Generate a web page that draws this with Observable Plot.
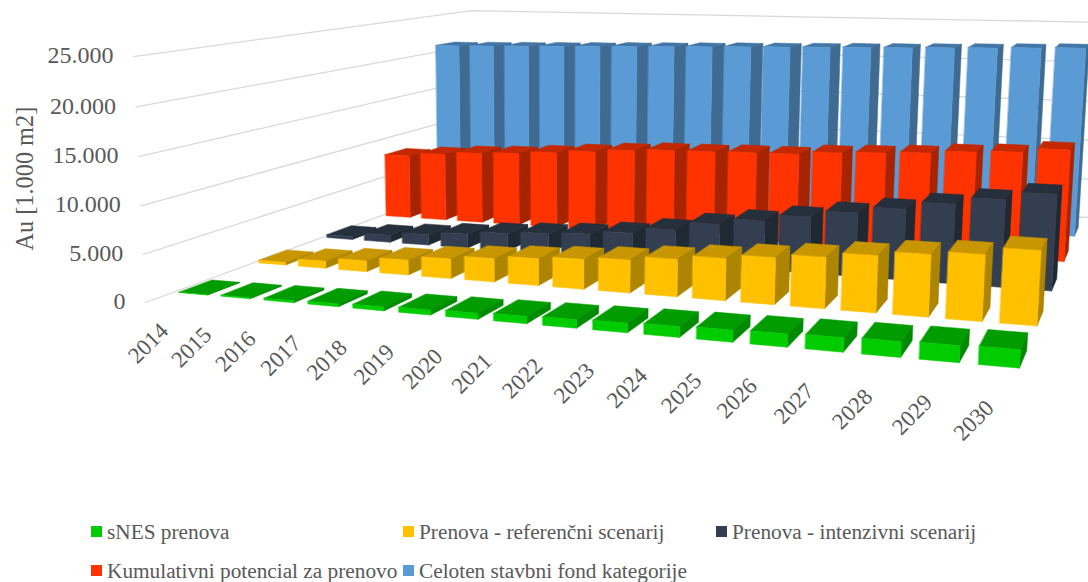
<!DOCTYPE html>
<html>
<head>
<meta charset="utf-8">
<style>
  html, body { margin: 0; padding: 0; background: #fff; }
  #chart { width: 1088px; height: 582px; position: relative; overflow: hidden; font-family: "Liberation Serif", serif; color: #595959; }
  #legend { position: absolute; left: 0; top: 510px; width: 1088px; height: 72px; font-size: 21.3px; }
  .key { position: absolute; white-space: nowrap; line-height: 24px; }
  .key i { display: inline-block; width: 11px; height: 11px; margin-right: 5px; vertical-align: 2.5px; }
</style>
<script src="https://cdn.jsdelivr.net/npm/d3@7"></script>
<script src="https://cdn.jsdelivr.net/npm/@observablehq/plot@0.6"></script>
</head>
<body>
<div id="chart"><div id="plot"></div><div id="legend"></div></div>
<script>
// Areas in thousands of square metres, one list per scenario row.
const years = [2014,2015,2016,2017,2018,2019,2020,2021,2022,2023,2024,2025,2026,2027,2028,2029,2030];
const snes      = [30,110,200,300,400,500,610,720,830,930,1040,1140,1240,1340,1440,1540,1650];
const referencni = [300,800,1200,1650,2150,2550,2900,3200,3500,3950,4400,4850,5250,5770,6250,6600,7350];
const intenzivni = [370,850,1250,1650,2050,2350,2650,3100,3830,4780,5500,6240,7000,7720,8570,9350,10200];
const potencial = [8050,8480,8860,9080,9420,9800,10170,10430,10500,10640,10700,11100,11330,11570,11930,12160,12680];
const fond      = [21030,21130,21240,21340,21450,21560,21670,21780,21900,21990,22090,22190,22280,22400,22520,22640,22760];
const axisTicks = [0,5000,10000,15000,20000,25000];
const axisLabels = ["0","5.000","10.000","15.000","20.000","25.000"];

const rows = [
  {name: "sNES prenova", values: snes, front: "#00cc00", top: "#009c00", side: "#008a00"},
  {name: "Prenova - referenčni scenarij", values: referencni, front: "#ffc000", top: "#c79600", side: "#ad8500"},
  {name: "Prenova - intenzivni scenarij", values: intenzivni, front: "#333f50", top: "#262f3c", side: "#1f2934"},
  {name: "Kumulativni potencial za prenovo", values: potencial, front: "#ff3300", top: "#c42800", side: "#a82300"},
  {name: "Celoten stavbni fond kategorije", values: fond, front: "#5b9bd5", top: "#4176a6", side: "#3f6b93"}
];

// Perspective of the 3D box: three vanishing points and their weights.
const O = [145, 302], VX = [-3836, -70], VY = [1210, -90], VZ = [559, 8800];
const wx = -0.01065, wy = 0.0891, wz = -0.02813 / 25000;
function project(X, Y, Z) {
  const a = X * wx, b = Y * wy, c = Z * wz, d = 1 + a + b + c;
  return [
    (O[0] + a * VX[0] + b * VY[0] + c * VZ[0]) / d,
    (O[1] + a * VX[1] + b * VY[1] + c * VZ[1]) / d
  ];
}

const barStart = 0.12, barWidth = 0.68, rowStart = 0.31, rowPitch = 0.965, rowDepth = 0.38;
const faces = [];
function addFace(id, fill, corners) {
  for (const [X, Y, Z] of corners) {
    const [x, y] = project(X, Y, Z);
    faces.push({id, fill, x, y});
  }
}
// Painter's order: back rows first, then left to right inside a row.
for (let r = rows.length - 1; r >= 0; r--) {
  const row = rows[r];
  row.values.forEach((v, n) => {
    const x0 = n + barStart, x1 = x0 + barWidth, y0 = r * rowPitch + rowStart, y1 = y0 + rowDepth;
    addFace(`${r}-${n}-t`, row.top, [[x0,y0,v],[x1,y0,v],[x1,y1,v],[x0,y1,v]]);
    addFace(`${r}-${n}-s`, row.side, [[x1,y0,0],[x1,y1,0],[x1,y1,v],[x1,y0,v]]);
    addFace(`${r}-${n}-f`, row.front, [[x0,y0,0],[x1,y0,0],[x1,y0,v],[x0,y0,v]]);
  });
}

// Gridlines run along the left wall and then along the back wall.
const grid = axisTicks.flatMap(v =>
  [[0,0],[0,rows.length],[years.length,rows.length]].map(([X,Y]) => {
    const [x, y] = project(X, Y, v);
    return {v, x, y};
  })
);
const yTicks = axisTicks.map((v, i) => {
  const [x, y] = project(0, 0, v);
  return {x, y, label: axisLabels[i]};
});
const xTicks = years.map((yr, n) => {
  const [x, y] = project(n + 0.4, 0, 0);
  return {x, y, label: String(yr)};
});

const W = 1088, H = 510, ink = "#595959", font = "Liberation Serif";
const chart = Plot.plot({
  width: W, height: H,
  marginTop: 0, marginRight: 0, marginBottom: 0, marginLeft: 0,
  style: {background: "transparent", fontFamily: font},
  x: {domain: [0, W], range: [0, W], axis: null},
  y: {domain: [0, H], range: [0, H], axis: null},
  color: {type: "identity"},
  marks: [
    Plot.line(grid, {x: "x", y: "y", z: "v", stroke: "#d9d9d9", strokeWidth: 1.3}),
    Plot.line(faces, {x: "x", y: "y", z: "id", fill: "fill", stroke: "fill", strokeWidth: 0.5, curve: "linear-closed"}),
    Plot.text(yTicks, {x: "x", y: "y", text: "label", textAnchor: "end", dx: -20, dy: -1, fontSize: 24, fill: ink, fontFamily: font}),
    Plot.text(xTicks, {x: "x", y: "y", text: "label", textAnchor: "end", rotate: -45, dx: 2, dy: 23, fontSize: 23, fill: ink, fontFamily: font}),
    Plot.text(["Au [1.000 m2]"], {frameAnchor: "top-left", dx: 15, dy: 250, rotate: -90, fontSize: 24.3, fill: ink, fontFamily: font})
  ]
});
document.getElementById("plot").appendChild(chart);

// Legend below the drawing, in the order of the rows.
const slots = [[91, 10], [403, 10], [716, 10], [91, 49], [403, 49]];
const legend = document.getElementById("legend");
rows.forEach((row, i) => {
  const key = document.createElement("div");
  key.className = "key";
  key.style.left = slots[i][0] + "px";
  key.style.top = slots[i][1] + "px";
  const swatch = document.createElement("i");
  swatch.style.background = row.front;
  key.append(swatch, row.name);
  legend.appendChild(key);
});
</script>
</body>
</html>
